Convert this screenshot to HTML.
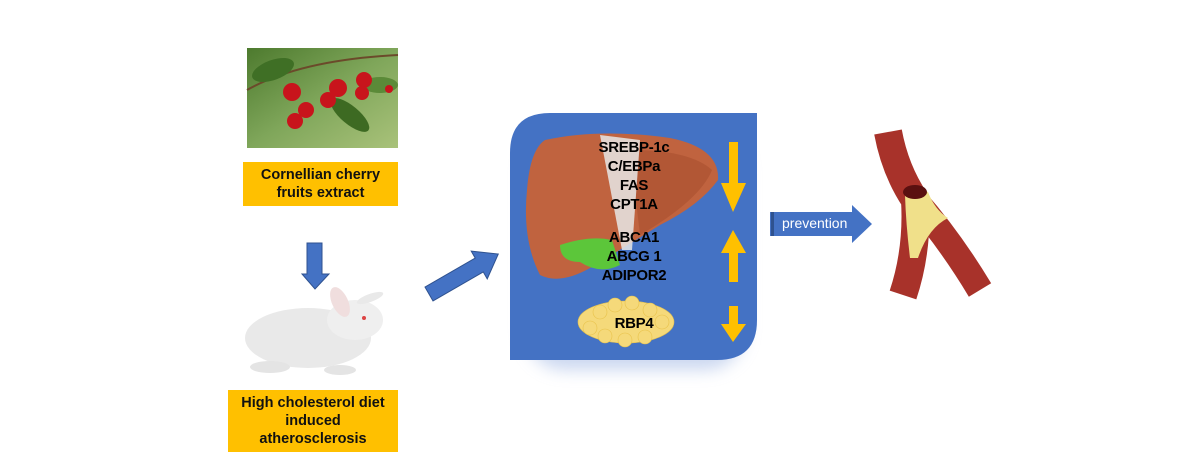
<!DOCTYPE html>
<html><head><meta charset="utf-8"><style>
body{margin:0;width:1200px;height:462px;background:#fff;overflow:hidden;position:relative;font-family:"Liberation Sans",Arial,sans-serif}
.lbl{position:absolute;background:#FFC000;font-weight:bold;font-size:14.5px;text-align:center;color:#111;line-height:18px;display:flex;align-items:center;justify-content:center}
.t{position:absolute;width:120px;text-align:center;font-weight:bold;font-size:15px;color:#000;left:574px;letter-spacing:-0.3px}
</style></head><body>
<svg width="1200" height="462" style="position:absolute;left:0;top:0">
<defs>
<linearGradient id="leaf" x1="0" y1="0" x2="1" y2="1"><stop offset="0" stop-color="#4d7a2e"/><stop offset="0.5" stop-color="#7fa65a"/><stop offset="1" stop-color="#a9c27a"/></linearGradient>
<filter id="bl" x="-20%" y="-20%" width="140%" height="140%"><feGaussianBlur stdDeviation="8"/></filter>
</defs>
<rect x="247" y="48" width="151" height="100" fill="url(#leaf)"/>
<path d="M247 90 Q300 60 398 55" stroke="#6b4a2a" stroke-width="2" fill="none"/>
<ellipse cx="273" cy="70" rx="22" ry="10" fill="#3f6f25" transform="rotate(-20 273 70)"/>
<ellipse cx="350" cy="115" rx="24" ry="9" fill="#3d6a22" transform="rotate(40 350 115)"/>
<ellipse cx="380" cy="85" rx="18" ry="8" fill="#5b8a38"/>
<g fill="#c8141c">
<circle cx="292" cy="92" r="9"/><circle cx="306" cy="110" r="8"/><circle cx="295" cy="121" r="8"/>
<circle cx="328" cy="100" r="8"/><circle cx="338" cy="88" r="9"/><circle cx="364" cy="80" r="8"/><circle cx="362" cy="93" r="7"/><circle cx="389" cy="89" r="4"/>
</g>
<polygon points="307,243 322,243 322,274 329,274 315,289 302,274 307,274" fill="#4472C4" stroke="#2f528f" stroke-width="1"/>
<ellipse cx="308" cy="338" rx="63" ry="30" fill="#e9e9e9"/>
<ellipse cx="355" cy="320" rx="28" ry="20" fill="#efefef"/>
<ellipse cx="340" cy="302" rx="8" ry="16" fill="#f0dede" transform="rotate(-25 340 302)"/>
<ellipse cx="370" cy="298" rx="14" ry="4" fill="#e9e9e9" transform="rotate(-20 370 298)"/>
<circle cx="364" cy="318" r="2" fill="#d44"/>
<ellipse cx="270" cy="367" rx="20" ry="6" fill="#e4e4e4"/><ellipse cx="340" cy="370" rx="16" ry="5" fill="#e4e4e4"/>
<g transform="translate(429,294) rotate(-30)">
<polygon points="0,-8 58,-8 58,-16 80,0 58,16 58,8 0,8" fill="#4472C4" stroke="#2f528f" stroke-width="1"/>
</g>
<rect x="525" y="130" width="220" height="240" rx="40" fill="#a9bde6" opacity="0.6" filter="url(#bl)"/>
<path d="M550 113 H757 V320 Q757 360 717 360 H510 V153 Q510 113 550 113 Z" fill="#4472C4"/>
<path d="M545 140 Q600 128 670 138 Q720 148 718 180 Q700 205 660 225 Q620 250 590 268 Q560 285 540 275 Q522 240 527 190 Q530 150 545 140 Z" fill="#c0633f"/>
<path d="M630 150 Q690 150 712 170 Q700 200 640 235 Z" fill="#a8502f" opacity="0.6"/>
<path d="M600 135 L640 140 L632 250 L622 250 Z" fill="#e6e6e6" opacity="0.85"/>
<path d="M560 245 Q590 235 612 240 L620 265 Q600 275 580 262 Q560 262 560 245 Z" fill="#5cc63a"/>
<g fill="#f5d97a" stroke="#e8c24a" stroke-width="0.6">
<ellipse cx="626" cy="322" rx="48" ry="21"/>
<circle cx="600" cy="312" r="7"/><circle cx="615" cy="305" r="7"/><circle cx="632" cy="303" r="7"/><circle cx="650" cy="310" r="7"/><circle cx="662" cy="322" r="7"/><circle cx="590" cy="328" r="7"/><circle cx="605" cy="336" r="7"/><circle cx="625" cy="340" r="7"/><circle cx="645" cy="337" r="7"/>
</g>
<polygon points="729,142 738,142 738,183 746,183 733,212 721,183 729,183" fill="#FFC000"/>
<polygon points="729,282 738,282 738,253 746,253 733,230 721,253 729,253" fill="#FFC000"/>
<polygon points="729,306 738,306 738,324 746,324 733,342 721,324 729,324" fill="#FFC000"/>
<polygon points="770,212 852,212 852,205 872,224 852,243 852,236 770,236" fill="#4472C4"/>
<rect x="771" y="212" width="3" height="24" fill="#2f528f"/>
<g fill="none" stroke-linecap="butt">
<path d="M888 132 Q895 170 915 200 Q918 250 903 295" stroke="#a8322a" stroke-width="28"/>
<path d="M915 200 Q950 240 980 290" stroke="#a8322a" stroke-width="26"/>
</g>
<path d="M905 195 Q915 185 928 192 Q935 210 948 218 Q928 228 918 258 L910 258 Q906 225 905 195 Z" fill="#f0e08a"/>
<ellipse cx="915" cy="192" rx="12" ry="7" fill="#5a1010"/>
</svg>
<div class="lbl" style="left:243px;top:162px;width:155px;height:44px">Cornellian cherry<br>fruits extract</div>
<div class="lbl" style="left:228px;top:390px;width:170px;height:62px">High cholesterol diet<br>induced<br>atherosclerosis</div>
<div class="t" style="top:139px">SREBP-1c</div>
<div class="t" style="top:158px">C/EBPa</div>
<div class="t" style="top:177px">FAS</div>
<div class="t" style="top:196px">CPT1A</div>
<div class="t" style="top:229px">ABCA1</div>
<div class="t" style="top:248px">ABCG 1</div>
<div class="t" style="top:267px">ADIPOR2</div>
<div class="t" style="top:315px">RBP4</div>
<div style="position:absolute;left:782px;top:215px;color:#fff;font-size:14px">prevention</div>
</body></html>
